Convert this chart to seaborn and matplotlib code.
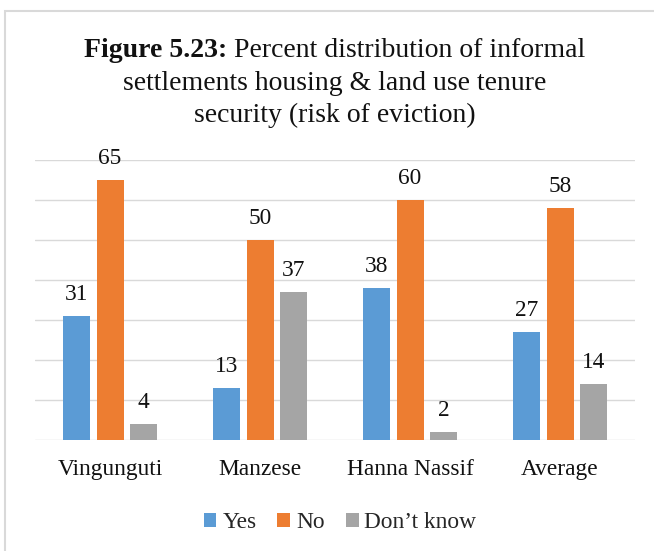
import matplotlib
matplotlib.use("Agg")
import matplotlib.pyplot as plt
from matplotlib.patches import Patch, Rectangle
import seaborn as sns
import pandas as pd

# Data: percent of respondents per settlement
settlements = ["Vingunguti", "Manzese", "Hanna Nassif", "Average"]
responses = ["Yes", "No", "Don\u2019t know"]
yes_pct = [31, 13, 38, 27]
no_pct = [65, 50, 60, 58]
dont_know_pct = [4, 37, 2, 14]
colors = ["#5B9BD5", "#ED7D31", "#A5A5A5"]

df = pd.DataFrame({
    "settlement": settlements * 3,
    "response": [responses[0]] * 4 + [responses[1]] * 4 + [responses[2]] * 4,
    "percent": yes_pct + no_pct + dont_know_pct,
})

sns.set_style("white")
plt.rcParams["font.family"] = ["Liberation Serif", "DejaVu Serif"]

W, H = 654, 551
fig = plt.figure(figsize=(W / 100, H / 100), dpi=100)
fx = lambda px: px / W
fy = lambda py: 1 - py / H

# light frame around the chart area
fig.patches.append(Rectangle((fx(5), fy(700)), 1.2, fy(11) - fy(700),
                             transform=fig.transFigure, fill=False,
                             edgecolor="#D9D9D9", linewidth=1.5))

ax = fig.add_axes([fx(35), fy(440), fx(635) - fx(35), fy(160) - fy(440)])
sns.barplot(data=df, x="settlement", y="percent", hue="response",
            order=settlements, hue_order=responses, palette=colors,
            width=2 / 3, gap=0.19, errorbar=None, saturation=1,
            linewidth=0, ax=ax)

ax.set_ylim(0, 70)
ax.set_yticks(range(0, 71, 10))
ax.yaxis.grid(True, color="#D9D9D9", linewidth=1.0)
ax.set_axisbelow(True)
ax.tick_params(axis="y", left=False, labelleft=False)
ax.tick_params(axis="x", length=0, pad=14, labelsize=16.8, colors="#111111")
for s in ax.spines.values():
    s.set_visible(False)
ax.set_xlabel("")
ax.set_ylabel("")

for cont in ax.containers:
    ax.bar_label(cont, fmt="%d", padding=8, fontsize=16.8, color="#111111")

ax.get_legend().remove()
handles = [Patch(facecolor=c, edgecolor="none") for c in colors]
fig.legend(handles, responses, loc="center",
           bbox_to_anchor=(fx(340), fy(523)), ncol=3, frameon=False,
           fontsize=16.8, handlelength=0.55, handleheight=0.55,
           handletextpad=0.25, columnspacing=0.9)

# Title with bold figure number
fig.canvas.draw()
renderer = fig.canvas.get_renderer()
t_bold = fig.text(0, fy(57), "Figure 5.23:", fontsize=20, fontweight="bold",
                  ha="left", va="baseline", color="#111111")
t_reg = fig.text(0, fy(57), "Percent distribution of informal", fontsize=20,
                 ha="left", va="baseline", color="#111111")
wb = t_bold.get_window_extent(renderer).width
wr = t_reg.get_window_extent(renderer).width
space = 0.25 * 20 * 100 / 72
total = wb + space + wr
x0 = 335 - total / 2
t_bold.set_x(fx(x0))
t_reg.set_x(fx(x0 + wb + space))
fig.text(fx(335), fy(90), "settlements housing & land use tenure", fontsize=20,
         ha="center", va="baseline", color="#111111")
fig.text(fx(335), fy(122), "security (risk of eviction)", fontsize=20,
         ha="center", va="baseline", color="#111111")

fig.savefig("out.png", dpi=100)
